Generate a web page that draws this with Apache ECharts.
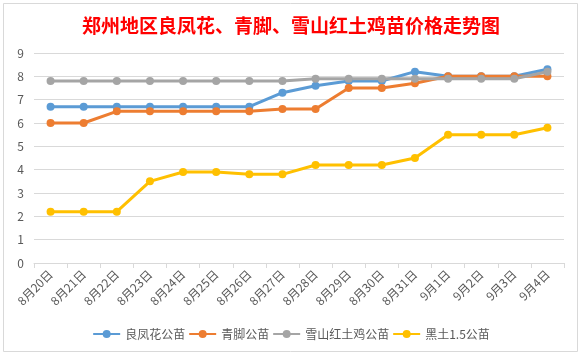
<!DOCTYPE html>
<html><head><meta charset="utf-8">
<script src="https://cdn.jsdelivr.net/npm/echarts@6/dist/echarts.min.js"></script>
<style>html,body{margin:0;padding:0;background:#fff}#c{width:582px;height:356px}</style>
</head><body><div id="c"></div>
<script>
var titleText = '郑州地区良凤花、青脚、雪山红土鸡苗价格走势图';
var categories = ['8月20日','8月21日','8月22日','8月23日','8月24日','8月25日','8月26日','8月27日','8月28日','8月29日','8月30日','8月31日','9月1日','9月2日','9月3日','9月4日'];
var seriesNames = ['良凤花公苗','青脚公苗','雪山红土鸡公苗','黑土1.5公苗'];
var liangfenghua = [6.7,6.7,6.7,6.7,6.7,6.7,6.7,7.3,7.6,7.8,7.8,8.2,8.0,8.0,8.0,8.3];
var qingjiao = [6.0,6.0,6.5,6.5,6.5,6.5,6.5,6.6,6.6,7.5,7.5,7.7,8.0,8.0,8.0,8.0];
var xueshan = [7.8,7.8,7.8,7.8,7.8,7.8,7.8,7.8,7.9,7.9,7.9,7.9,7.9,7.9,7.9,8.2];
var heitu = [2.2,2.2,2.2,3.5,3.9,3.9,3.8,3.8,4.2,4.2,4.2,4.5,5.5,5.5,5.5,5.8];
var yTicks = [0,1,2,3,4,5,6,7,8,9];

var colors = ['#5B9BD5','#ED7D31','#A5A5A5','#FFC000'];
var values = [liangfenghua, qingjiao, xueshan, heitu];
var font = '"Noto Sans CJK SC", sans-serif';

var chart = echarts.init(document.getElementById('c'), null, {renderer:'canvas'});
chart.setOption({
  animation:false,
  backgroundColor:'#fff',
  color: colors,
  title:{text:titleText,left:'center',top:11,
    textStyle:{color:'#FF0000',fontSize:19,fontWeight:'bold',fontFamily:font}},
  grid:{left:34,right:18,top:53,bottom:93,containLabel:false},
  legend:{data:seriesNames,bottom:11,left:'center',itemWidth:27,itemHeight:10,itemGap:3,
    textStyle:{color:'#595959',fontSize:12,fontFamily:font}},
  xAxis:{type:'category',data:categories,boundaryGap:true,
    axisLine:{lineStyle:{color:'#d9d9d9',width:1}},
    axisTick:{show:true,length:5,lineStyle:{color:'#d9d9d9'}},
    axisLabel:{interval:0,rotate:45,color:'#595959',fontSize:12,fontFamily:font,margin:9}},
  yAxis:{type:'value',min:yTicks[0],max:yTicks[yTicks.length-1],interval:1,
    axisLine:{show:false},axisTick:{show:false},
    splitLine:{lineStyle:{color:'#d9d9d9',width:1}},
    axisLabel:{color:'#595959',fontSize:12,fontFamily:font,margin:10}},
  series: seriesNames.map(function(n,i){
    return {name:n,type:'line',data:values[i],symbol:'circle',symbolSize:8,
      lineStyle:{width:3,color:colors[i]},itemStyle:{color:colors[i]}};
  }),
  graphic:[{type:'rect',shape:{x:3.5,y:3.5,width:574,height:348},
    style:{fill:null,stroke:'#d9d9d9',lineWidth:1},silent:true,z:-1}]
});
</script></body></html>
